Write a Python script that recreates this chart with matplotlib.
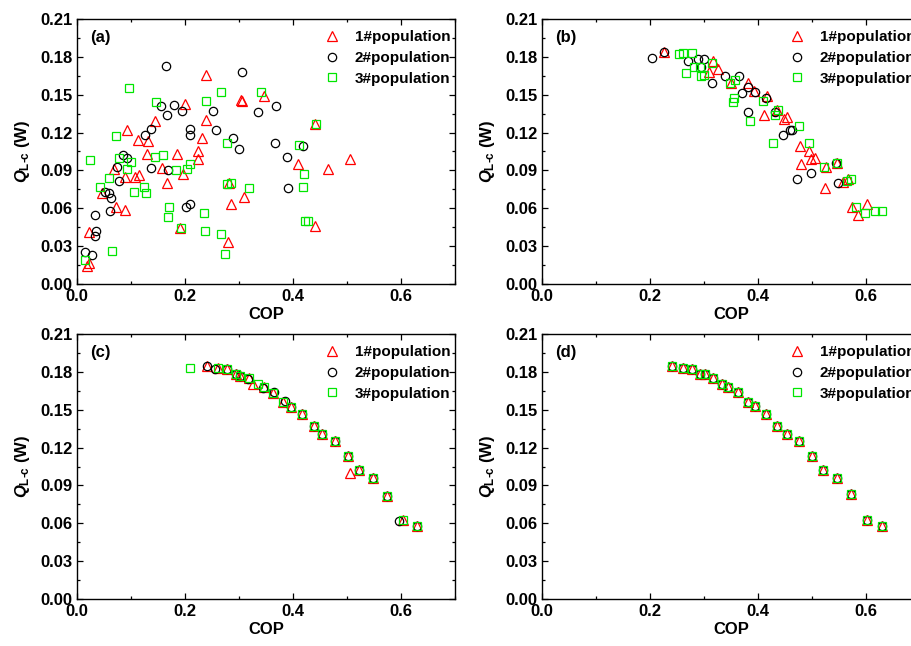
import matplotlib
matplotlib.use("Agg")
import matplotlib.pyplot as plt

plt.rcParams["font.family"] = ["Liberation Sans", "DejaVu Sans"]
plt.rcParams["font.weight"] = "bold"
plt.rcParams["mathtext.fontset"] = "custom"
plt.rcParams["mathtext.it"] = "Liberation Sans:italic:bold"
plt.rcParams["mathtext.rm"] = "Liberation Sans:bold"
plt.rcParams["mathtext.bf"] = "Liberation Sans:bold"

labels = ["1#population", "2#population", "3#population"]
panel_tags = ["(a)", "(b)", "(c)", "(d)"]
xticks = [0.0, 0.2, 0.4, 0.6]
yticks = [0.00, 0.03, 0.06, 0.09, 0.12, 0.15, 0.18, 0.21]

# (a)
a1_cop = [0.019, 0.023, 0.022, 0.046, 0.068, 0.072, 0.089, 0.088, 0.093, 0.107, 0.115, 0.113, 0.130,
          0.131, 0.144, 0.157, 0.166, 0.185, 0.191, 0.196, 0.200, 0.225, 0.225, 0.231, 0.239, 0.239,
          0.282, 0.280, 0.285, 0.303, 0.306, 0.309, 0.347, 0.410, 0.440, 0.441, 0.464, 0.506]
a1_q = [0.014, 0.017, 0.041, 0.072, 0.091, 0.061, 0.059, 0.085, 0.122, 0.085, 0.086, 0.114, 0.103,
        0.113, 0.129, 0.092, 0.080, 0.103, 0.044, 0.087, 0.143, 0.105, 0.099, 0.116, 0.130, 0.166,
        0.080, 0.033, 0.063, 0.146, 0.145, 0.069, 0.149, 0.095, 0.127, 0.046, 0.091, 0.099]
a2_cop = [0.015, 0.028, 0.033, 0.035, 0.034, 0.052, 0.059, 0.063, 0.061, 0.078, 0.075, 0.085, 0.093,
          0.126, 0.137, 0.137, 0.155, 0.164, 0.166, 0.169, 0.180, 0.195, 0.202, 0.209, 0.210, 0.210,
          0.252, 0.257, 0.288, 0.300, 0.305, 0.336, 0.366, 0.368, 0.389, 0.391, 0.418]
a2_q = [0.025, 0.023, 0.038, 0.042, 0.055, 0.073, 0.072, 0.068, 0.058, 0.082, 0.093, 0.102, 0.100,
        0.118, 0.123, 0.092, 0.141, 0.173, 0.134, 0.090, 0.142, 0.137, 0.061, 0.063, 0.123, 0.118,
        0.137, 0.122, 0.116, 0.107, 0.168, 0.136, 0.112, 0.141, 0.101, 0.076, 0.109]
a3_cop = [0.015, 0.025, 0.043, 0.060, 0.064, 0.073, 0.077, 0.093, 0.097, 0.100, 0.106, 0.125, 0.127,
          0.146, 0.145, 0.159, 0.169, 0.170, 0.183, 0.192, 0.203, 0.209, 0.235, 0.237, 0.238, 0.266,
          0.266, 0.274, 0.277, 0.277, 0.286, 0.319, 0.341, 0.412, 0.420, 0.419, 0.422, 0.427, 0.442]
a3_q = [0.019, 0.098, 0.077, 0.084, 0.026, 0.117, 0.100, 0.091, 0.155, 0.097, 0.073, 0.077, 0.072,
        0.144, 0.101, 0.102, 0.053, 0.061, 0.090, 0.044, 0.091, 0.095, 0.056, 0.042, 0.145, 0.152,
        0.040, 0.024, 0.112, 0.079, 0.080, 0.076, 0.152, 0.110, 0.087, 0.077, 0.050, 0.050, 0.127]

# (b)
b1_cop = [0.226, 0.310, 0.317, 0.326, 0.350, 0.382, 0.392, 0.416, 0.411, 0.435, 0.449, 0.453, 0.477,
          0.480, 0.494, 0.499, 0.505, 0.524, 0.525, 0.546, 0.557, 0.567, 0.575, 0.585, 0.602]
b1_q = [0.184, 0.168, 0.177, 0.170, 0.159, 0.159, 0.153, 0.149, 0.134, 0.138, 0.131, 0.132, 0.109,
        0.095, 0.105, 0.099, 0.100, 0.076, 0.093, 0.096, 0.081, 0.083, 0.061, 0.055, 0.063]
b2_cop = [0.204, 0.226, 0.270, 0.288, 0.300, 0.295, 0.315, 0.338, 0.364, 0.370, 0.382, 0.394, 0.382,
          0.414, 0.431, 0.446, 0.459, 0.463, 0.473, 0.498, 0.545, 0.548]
b2_q = [0.179, 0.184, 0.177, 0.178, 0.178, 0.172, 0.159, 0.165, 0.165, 0.151, 0.156, 0.152, 0.136,
        0.147, 0.136, 0.118, 0.122, 0.122, 0.083, 0.088, 0.096, 0.080]
b3_cop = [0.253, 0.261, 0.277, 0.267, 0.282, 0.292, 0.295, 0.300, 0.315, 0.349, 0.358, 0.354, 0.355,
          0.385, 0.409, 0.428, 0.431, 0.437, 0.476, 0.494, 0.522, 0.546, 0.565, 0.573, 0.581, 0.598,
          0.616, 0.630]
b3_q = [0.182, 0.183, 0.183, 0.167, 0.172, 0.172, 0.165, 0.166, 0.175, 0.159, 0.162, 0.144, 0.147,
        0.129, 0.145, 0.112, 0.134, 0.138, 0.125, 0.112, 0.093, 0.096, 0.082, 0.083, 0.061, 0.056,
        0.058, 0.058]

# (c)
c1_cop = [0.240, 0.262, 0.277, 0.294, 0.301, 0.318, 0.326, 0.346, 0.363, 0.382, 0.396, 0.417, 0.438,
          0.454, 0.477, 0.502, 0.505, 0.522, 0.548, 0.574, 0.603, 0.630]
c1_q = [0.185, 0.183, 0.182, 0.178, 0.177, 0.175, 0.170, 0.168, 0.163, 0.156, 0.152, 0.147, 0.137,
        0.131, 0.125, 0.113, 0.100, 0.102, 0.096, 0.082, 0.063, 0.058]
c2_cop = [0.241, 0.255, 0.277, 0.294, 0.301, 0.317, 0.344, 0.364, 0.385, 0.396, 0.417, 0.438, 0.454,
          0.477, 0.502, 0.522, 0.548, 0.574, 0.596, 0.630]
c2_q = [0.185, 0.182, 0.182, 0.178, 0.177, 0.174, 0.167, 0.164, 0.157, 0.152, 0.147, 0.137, 0.131,
        0.125, 0.113, 0.102, 0.096, 0.082, 0.062, 0.058]
c3_cop = [0.209, 0.262, 0.277, 0.294, 0.301, 0.318, 0.335, 0.346, 0.363, 0.382, 0.396, 0.417, 0.438,
          0.454, 0.477, 0.502, 0.522, 0.548, 0.574, 0.603, 0.630]
c3_q = [0.183, 0.183, 0.182, 0.178, 0.177, 0.175, 0.170, 0.168, 0.163, 0.156, 0.152, 0.147, 0.137,
        0.131, 0.125, 0.113, 0.102, 0.096, 0.082, 0.063, 0.058]

# (d) - all three populations converge to the same front
d_cop = [0.240, 0.261, 0.277, 0.292, 0.301, 0.317, 0.333, 0.344, 0.363, 0.382, 0.395, 0.415, 0.436,
         0.453, 0.476, 0.500, 0.520, 0.547, 0.573, 0.602, 0.630]
d_q = [0.185, 0.183, 0.182, 0.178, 0.178, 0.175, 0.170, 0.168, 0.164, 0.156, 0.153, 0.147, 0.137,
       0.131, 0.125, 0.113, 0.102, 0.096, 0.083, 0.063, 0.058]

panels = [
    [(a1_cop, a1_q), (a2_cop, a2_q), (a3_cop, a3_q)],
    [(b1_cop, b1_q), (b2_cop, b2_q), (b3_cop, b3_q)],
    [(c1_cop, c1_q), (c2_cop, c2_q), (c3_cop, c3_q)],
    [(d_cop, d_q), (d_cop, d_q), (d_cop, d_q)],
]

styles = [("^", "#ff0000", 6.5), ("o", "black", 6.0), ("s", "#00e600", 5.6)]

fig = plt.figure(figsize=(9.12, 6.46), dpi=100)
W, H = 912.0, 646.0
boxes = [(77, 19), (542, 19), (77, 334), (542, 334)]  # left, top in px; right panels run past the edge

for i, (left, top) in enumerate(boxes):
    ax = fig.add_axes([left / W, (H - top - 265) / H, 378 / W, 265 / H])
    for k, ((x, y), (m, c, ms)) in enumerate(zip(panels[i], styles)):
        ax.plot(x, y, ls="none", marker=m, ms=ms, mfc="none", mec=c, mew=0.9, label=labels[k])
    ax.set_xlim(0, 0.7)
    ax.set_ylim(0, 0.21)
    ax.set_xticks(xticks)
    ax.set_xticklabels(["%.1f" % v for v in xticks])
    ax.set_xticks([0.1, 0.3, 0.5, 0.7], minor=True)
    ax.set_yticks(yticks)
    ax.set_yticklabels(["%.2f" % v for v in yticks])
    ax.set_yticks([0.015 + 0.03 * k for k in range(7)], minor=True)
    ax.tick_params(which="both", direction="in", top=True, right=True, labelsize=12, width=0.9)
    ax.tick_params(which="major", length=4)
    ax.tick_params(which="minor", length=2.5)
    for s in ax.spines.values():
        s.set_linewidth(1.0)
    ax.set_xlabel("COP", fontsize=12, fontweight="bold", labelpad=2)
    ax.set_ylabel(r"$Q_{\mathrm{L\text{-}c}}$ (W)", fontsize=12, fontweight="bold", labelpad=6)
    ax.text(0.034, 0.93, panel_tags[i], transform=ax.transAxes, fontsize=12,
            fontweight="bold", va="center", ha="left")
    ax.legend(loc="upper left", bbox_to_anchor=(0.6545, 0.958), frameon=False,
              handlelength=1.0, handletextpad=1.0, labelspacing=0.44, borderpad=0, borderaxespad=0,
              prop={"weight": "bold", "size": 11})

fig.savefig("out.png", dpi=100)
